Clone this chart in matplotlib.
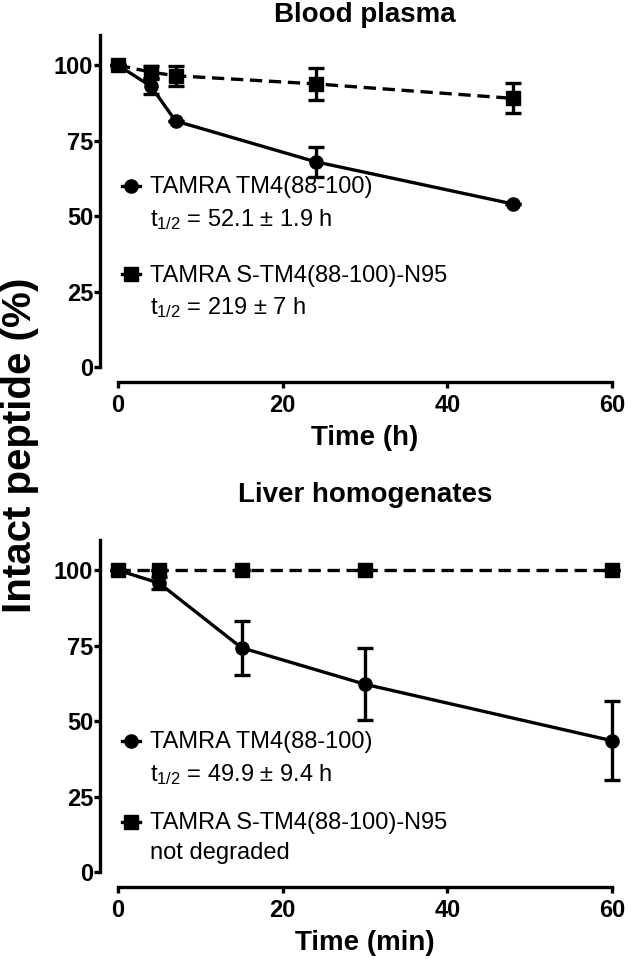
import matplotlib.pyplot as plt
import numpy as np
from matplotlib.lines import Line2D

plt.rcParams['font.family'] = ['Liberation Sans', 'DejaVu Sans']
plt.rcParams['mathtext.default'] = 'regular'

# --- datos ---
# Plasma (tiempo en h)
plasma_t = [0, 4, 7, 24, 48]
plasma_tm4 = [100, 93.0, 81.5, 68.0, 54.0]
plasma_tm4_err = [0, 2.5, 0, 5.0, 0]
plasma_n95 = [100, 97.7, 96.5, 93.8, 89.0]
plasma_n95_err = [0, 2.0, 3.3, 5.2, 5.0]

# Homogeneizado de higado (tiempo en min)
liver_t = [0, 5, 15, 30, 60]
liver_tm4 = [100, 95.7, 74.3, 62.2, 43.5]
liver_tm4_err = [0, 2.0, 9.0, 12.0, 13.0]
liver_n95 = [100, 100, 100, 100, 100]
liver_n95_err = [0, 0, 0, 0, 0]

label_tm4 = "TAMRA TM4(88-100)"
label_n95 = "TAMRA S-TM4(88-100)-N95"
plasma_notes = ["$t_{1/2}$ = 52.1 \u00b1 1.9 h", "$t_{1/2}$ = 219 \u00b1 7 h"]
liver_notes = ["$t_{1/2}$ = 49.9 \u00b1 9.4 h", "not degraded"]

x_ticks = [0, 20, 40, 60]
y_ticks = [0, 25, 50, 75, 100]

LW = 2.4


def panel(ax, t, tm4, tm4_err, n95, n95_err, notes, title, xlabel, title_pad, leg_y, leg_sp):
    h1 = ax.errorbar(t, tm4, yerr=tm4_err, fmt='-o', color='black', lw=LW,
                     ms=9.5, elinewidth=LW, capsize=6, capthick=LW, clip_on=False, zorder=3)
    h2 = ax.errorbar(t, n95, yerr=n95_err, fmt='s', ls=(0, (3.7, 2.0)), color='black',
                     lw=LW, ms=9.5, elinewidth=LW, capsize=6, capthick=LW, clip_on=False, zorder=4)
    for h in (h1, h2):
        for c in h[1] + h[2]:
            c.set_clip_on(False)

    ax.set_xlim(0, 60)
    ax.set_ylim(0, 110)
    ax.set_xticks(x_ticks)
    ax.set_yticks(y_ticks)

    for s in ['top', 'right']:
        ax.spines[s].set_visible(False)
    ax.spines['left'].set_position(('outward', 13))
    ax.spines['bottom'].set_position(('outward', 10.8))
    for s in ['left', 'bottom']:
        ax.spines[s].set_linewidth(LW)
    ax.tick_params(width=LW, length=4.5, labelsize=17, pad=0.5)
    ax.tick_params(axis='x', pad=4)
    for lab in ax.get_xticklabels() + ax.get_yticklabels():
        lab.set_fontweight('bold')

    ax.set_xlabel(xlabel, fontsize=20, fontweight='bold', labelpad=6)
    ax.set_title(title, fontsize=20, fontweight='bold', pad=title_pad)

    k1 = Line2D([], [], color='black', lw=LW, marker='o', ms=9.5)
    k2 = Line2D([], [], color='black', lw=LW, marker='s', ms=9.5)
    leg = ax.legend([k1, k2], [label_tm4 + "\n" + notes[0], label_n95 + "\n" + notes[1]],
                    loc='upper left', bbox_to_anchor=(0.008, leg_y), frameon=False,
                    fontsize=17, handlelength=0.75, handletextpad=0.42, handleheight=1.1,
                    borderpad=0, borderaxespad=0, labelspacing=leg_sp)
    for t_ in leg.get_texts():
        t_.set_linespacing(1.45)
    # marcador alineado con la primera linea
    for col in leg._legend_handle_box.get_children():
        for item in col.get_children():
            item.align = 'top'


fig = plt.figure(figsize=(6.33, 9.59), dpi=100)
ax1 = fig.add_axes([118 / 633, 1 - 367 / 959, 494 / 633, 332 / 959])
ax2 = fig.add_axes([118 / 633, 1 - 872 / 959, 494 / 633, 332 / 959])

panel(ax1, plasma_t, plasma_tm4, plasma_tm4_err, plasma_n95, plasma_n95_err,
      plasma_notes, "Blood plasma", "Time (h)", 9, 0.575, 1.4)
panel(ax2, liver_t, liver_tm4, liver_tm4_err, liver_n95, liver_n95_err,
      liver_notes, "Liver homogenates", "Time (min)", 27, 0.424, 1.08)

fig.text(0.032, 1 - 445 / 959, "Intact peptide (%)", rotation=90, fontsize=29,
         fontweight='bold', ha='center', va='center')

fig.savefig('out.png', dpi=100)
